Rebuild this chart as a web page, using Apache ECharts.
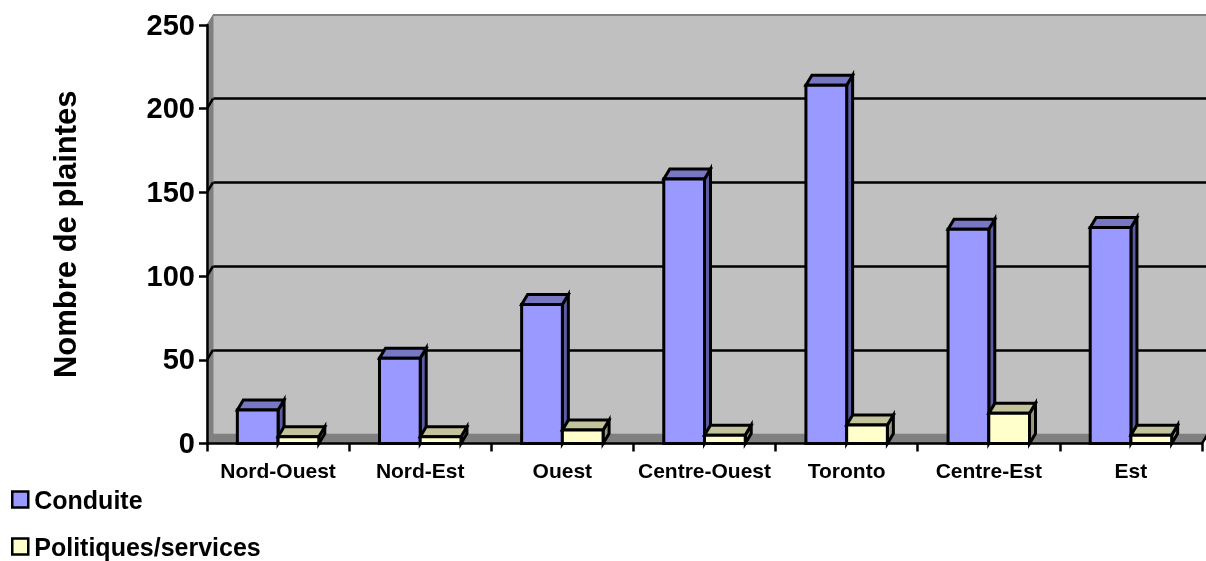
<!DOCTYPE html>
<html><head><meta charset="utf-8">
<style>html,body{margin:0;padding:0;background:#fff}#c{width:1206px;height:561px}</style>
<script src="https://cdn.jsdelivr.net/npm/echarts@6/dist/echarts.min.js"></script>
</head><body><div id="c"></div>
<script>
const categories = ['Nord-Ouest','Nord-Est','Ouest','Centre-Ouest','Toronto','Centre-Est','Est'];
const conduite = [20,51,83,158,214,128,129];
const politiques = [4,4,8,5,11,18,5];
const yTicks = [50,100,150,200];

const DX = 6, DY = 10, LEFT = 207, RIGHT = 1202, TOP = 25, BOTTOM = 443.5;
const FONT = '"Liberation Sans", Arial, sans-serif';
const BLACK = {stroke:'#000', lineWidth:3};

function poly(points, fill, st){
  return {type:'polygon', shape:{points}, style:Object.assign({fill, lineJoin:'miter'}, st||BLACK)};
}
function barRenderer(offset, front, top, side){
  return function(params, api){
    const p = api.coord([api.value(0), api.value(1)]);
    const base = api.coord([api.value(0), 0]);
    const band = api.size([1,0])[0];
    const w = band * 0.2865;
    const x0 = p[0] + offset * w, x1 = x0 + w, y = p[1], b = base[1];
    return {type:'group', children:[
      poly([[x1,y],[x1+DX,y-DY],[x1+DX,b-DY],[x1,b]], side),
      poly([[x0,y],[x0+DX,y-DY],[x1+DX,y-DY],[x1,y]], top),
      poly([[x0,y],[x1,y],[x1,b],[x0,b]], front)
    ]};
  };
}
function sceneItem(params, api){
  const cs = params.coordSys;
  const l = cs.x, r = cs.x + cs.width, t = cs.y, b = cs.y + cs.height;
  const none = {stroke:'none'};
  const kids = [
    poly([[l,b],[l+DX,b-DY],[r+DX,b-DY],[r,b]], '#808080', none),
    poly([[l,b],[l+DX,b-DY],[l+DX,t-DY],[l,t]], '#808080', {stroke:'#808080',lineWidth:1}),
    {type:'line',shape:{x1:l+DX,y1:t-DY,x2:r+DX,y2:t-DY},style:{stroke:'#808080',lineWidth:2}},
    {type:'line',shape:{x1:r,y1:b,x2:r+DX,y2:b-DY},style:{stroke:'#000',lineWidth:2.5}}
  ];
  yTicks.forEach(v=>{
    const y = api.coord([0,v])[1];
    kids.push({type:'line',shape:{x1:l,y1:y,x2:l+DX,y2:y-DY},style:{stroke:'#000',lineWidth:2.5}});
  });
  return {type:'group',children:kids};
}
function legendAt(name, top){
  return {
    orient:'vertical', left:11, top, padding:0, itemWidth:16, itemHeight:16,
    icon:'rect', selectedMode:false, data:[name],
    itemStyle:{borderColor:'#000',borderWidth:2.5},
    formatter:'{a|{name}}',
    textStyle:{rich:{a:{fontFamily:FONT,fontWeight:'bold',fontSize:25,color:'#000',padding:[6,0,0,1]}}}
  };
}

const chart = echarts.init(document.getElementById('c'), null, {renderer:'canvas'});
chart.setOption({
  animation:false,
  backgroundColor:'#fff',
  textStyle:{fontFamily:FONT},
  legend:[legendAt('Conduite',490), legendAt('Politiques/services',537)],
  grid:[
    {left:LEFT,top:TOP,width:RIGHT-LEFT,height:BOTTOM-TOP,show:false,z:1},
    {left:LEFT+DX,top:TOP-DY,width:RIGHT-LEFT,height:BOTTOM-TOP,show:true,backgroundColor:'#C0C0C0',borderWidth:0,z:0}
  ],
  xAxis:[
    {type:'category',gridIndex:0,data:categories,z:5,
     axisLine:{lineStyle:{color:'#000',width:2.5}},
     axisTick:{show:true,length:8,alignWithLabel:false,lineStyle:{color:'#000',width:2.5}},
     axisLabel:{interval:0,margin:18,color:'#000',fontFamily:FONT,fontWeight:'bold',fontSize:21}},
    {type:'category',gridIndex:1,data:categories,axisLine:{show:false},axisTick:{show:false},axisLabel:{show:false}}
  ],
  yAxis:[
    {type:'value',gridIndex:0,min:0,max:250,interval:50,z:5,
     name:'Nombre de plaintes',nameLocation:'middle',nameRotate:90,nameGap:124,
     nameTextStyle:{fontFamily:FONT,fontWeight:'bold',fontSize:31,color:'#000'},
     splitLine:{show:false},
     axisLine:{show:true,lineStyle:{color:'#000',width:2.5}},
     axisTick:{show:true,length:8,lineStyle:{color:'#000',width:2.5}},
     axisLabel:{margin:12,color:'#000',fontFamily:FONT,fontWeight:'bold',fontSize:29,verticalAlign:'top',lineHeight:3}},
    {type:'value',gridIndex:1,min:0,max:250,interval:50,
     axisLine:{show:false},axisTick:{show:false},axisLabel:{show:false},
     splitLine:{show:true,showMinLine:false,showMaxLine:false,lineStyle:{color:'#000',width:2.5}}}
  ],
  series:[
    {name:'scene',type:'custom',xAxisIndex:0,yAxisIndex:0,silent:true,clip:false,z:1,
     data:[[0,0]],renderItem:sceneItem,tooltip:{show:false}},
    {name:'Conduite',type:'custom',xAxisIndex:0,yAxisIndex:0,clip:false,z:2,
     itemStyle:{color:'#9999FF'},encode:{x:0,y:1},
     data:conduite.map((v,i)=>[i,v]),renderItem:barRenderer(-1,'#9999FF','#7777C4','#5C5CA3')},
    {name:'Politiques/services',type:'custom',xAxisIndex:0,yAxisIndex:0,clip:false,z:3,
     itemStyle:{color:'#FFFFCC'},encode:{x:0,y:1},
     data:politiques.map((v,i)=>[i,v]),renderItem:barRenderer(0,'#FFFFCC','#C4C49C','#999980')}
  ]
});
</script></body></html>
